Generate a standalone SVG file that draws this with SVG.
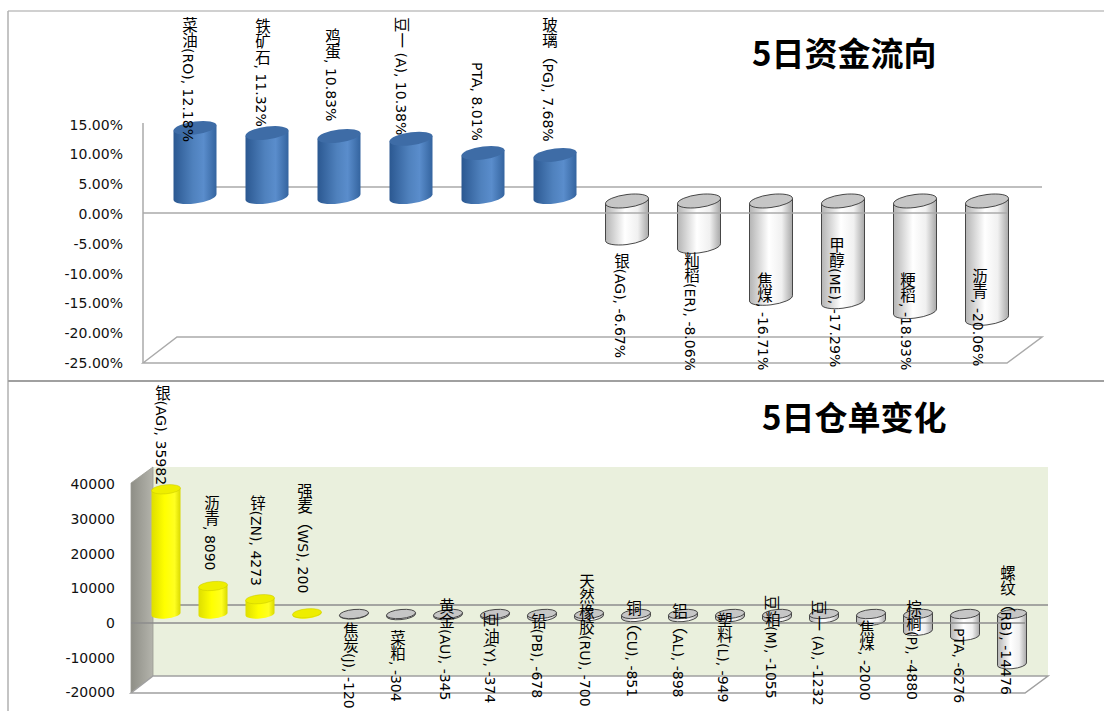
<svg xmlns="http://www.w3.org/2000/svg" width="1104" height="711" viewBox="0 0 1104 711">
<defs>
<linearGradient id="gBlue" x1="0" y1="0" x2="1" y2="0">
<stop offset="0" stop-color="#2b5891"/><stop offset="0.45" stop-color="#4f81bd"/><stop offset="0.7" stop-color="#5a8dcc"/><stop offset="1" stop-color="#34649f"/>
</linearGradient>
<linearGradient id="gSilver" x1="0" y1="0" x2="1" y2="0">
<stop offset="0" stop-color="#b4b4b4"/><stop offset="0.45" stop-color="#ffffff"/><stop offset="0.75" stop-color="#f0f0f0"/><stop offset="1" stop-color="#a8a8a8"/>
</linearGradient>
<linearGradient id="gYellow" x1="0" y1="0" x2="1" y2="0">
<stop offset="0" stop-color="#dede00"/><stop offset="0.45" stop-color="#ffff00"/><stop offset="0.8" stop-color="#ffff20"/><stop offset="1" stop-color="#d8d800"/>
</linearGradient>
<linearGradient id="gSide" x1="0" y1="0" x2="1" y2="0">
<stop offset="0" stop-color="#8e8e86"/><stop offset="1" stop-color="#b4b4ac"/>
</linearGradient>
<style>
.ax{font-family:"DejaVu Sans","Liberation Sans",sans-serif;font-size:14px;fill:#111;text-anchor:end}
.lbl{font-family:"DejaVu Sans","Noto Sans CJK SC",sans-serif;font-size:14px;fill:#000;writing-mode:vertical-rl}
.c{font-size:15.5px}
.sw{text-orientation:sideways;font-size:15.5px}
.title{font-family:"Noto Sans CJK SC",sans-serif;font-size:33px;font-weight:bold;fill:#000}
.grid{stroke:#aaaaaa;stroke-width:1.5;fill:none}
.grid2{stroke:#8c8c8c;stroke-width:1.5;fill:none}
.bBody{fill:url(#gBlue)}
.bTop{fill:#3e6ca6}
.sBody{fill:url(#gSilver);stroke:#3a3a3a;stroke-width:0.9}
.sTop{fill:#c6c6c6;stroke:#3a3a3a;stroke-width:0.9}
.yBody{fill:url(#gYellow)}
.yTop{fill:#eeee00;stroke:#c8c800;stroke-width:0.5}
</style>
</defs>
<rect width="1104" height="711" fill="#ffffff"/>
<g id="frame">
<line x1="8" y1="11" x2="1104" y2="11" stroke="#c0c0c0" stroke-width="1.5"/>
<line x1="8" y1="11" x2="8" y2="711" stroke="#b0b0b0" stroke-width="1.5"/>
<line x1="8" y1="381" x2="1104" y2="381" stroke="#a0a0a0" stroke-width="2"/>
</g>

<!-- TOP CHART -->
<g id="top-chart">
<g id="top-axes">
<polygon class="grid" points="143,363 177,337 1042,337 1007,363" fill="#ffffff"/>
<line class="grid" x1="143" y1="123" x2="143" y2="363"/>
<line class="grid" x1="177" y1="187" x2="1042" y2="187"/>
</g>
<g id="top-bars">
<g id="tb1" transform="translate(195 0) skewY(-7) translate(-195 0)"><path class="bBody" d="M173.5,127.9 L173.5,197 A21.5,6.5 0 0 0 216.5,197 L216.5,127.9 Z"/><ellipse class="bTop" cx="195" cy="127.9" rx="21.5" ry="6.5"/></g>
<g id="tb2" transform="translate(267 0) skewY(-7) translate(-267 0)"><path class="bBody" d="M245.5,133.1 L245.5,197 A21.5,6.5 0 0 0 288.5,197 L288.5,133.1 Z"/><ellipse class="bTop" cx="267" cy="133.1" rx="21.5" ry="6.5"/></g>
<g id="tb3" transform="translate(339 0) skewY(-7) translate(-339 0)"><path class="bBody" d="M317.5,136 L317.5,197 A21.5,6.5 0 0 0 360.5,197 L360.5,136 Z"/><ellipse class="bTop" cx="339" cy="136" rx="21.5" ry="6.5"/></g>
<g id="tb4" transform="translate(411 0) skewY(-7) translate(-411 0)"><path class="bBody" d="M389.5,138.7 L389.5,197 A21.5,6.5 0 0 0 432.5,197 L432.5,138.7 Z"/><ellipse class="bTop" cx="411" cy="138.7" rx="21.5" ry="6.5"/></g>
<g id="tb5" transform="translate(483 0) skewY(-7) translate(-483 0)"><path class="bBody" d="M461.5,152.9 L461.5,197 A21.5,6.5 0 0 0 504.5,197 L504.5,152.9 Z"/><ellipse class="bTop" cx="483" cy="152.9" rx="21.5" ry="6.5"/></g>
<g id="tb6" transform="translate(555 0) skewY(-7) translate(-555 0)"><path class="bBody" d="M533.5,154.9 L533.5,197 A21.5,6.5 0 0 0 576.5,197 L576.5,154.9 Z"/><ellipse class="bTop" cx="555" cy="154.9" rx="21.5" ry="6.5"/></g>
<g id="tb7" transform="translate(627 0) skewY(-7) translate(-627 0)"><path class="sBody" d="M605.5,201 L605.5,238 A21.5,6.5 0 0 0 648.5,238 L648.5,201 Z"/><ellipse class="sTop" cx="627" cy="201" rx="21.5" ry="6.5"/></g>
<g id="tb8" transform="translate(699 0) skewY(-7) translate(-699 0)"><path class="sBody" d="M677.5,201 L677.5,246.4 A21.5,6.5 0 0 0 720.5,246.4 L720.5,201 Z"/><ellipse class="sTop" cx="699" cy="201" rx="21.5" ry="6.5"/></g>
<g id="tb9" transform="translate(771 0) skewY(-7) translate(-771 0)"><path class="sBody" d="M749.5,201 L749.5,298.3 A21.5,6.5 0 0 0 792.5,298.3 L792.5,201 Z"/><ellipse class="sTop" cx="771" cy="201" rx="21.5" ry="6.5"/></g>
<g id="tb10" transform="translate(843 0) skewY(-7) translate(-843 0)"><path class="sBody" d="M821.5,201 L821.5,301.7 A21.5,6.5 0 0 0 864.5,301.7 L864.5,201 Z"/><ellipse class="sTop" cx="843" cy="201" rx="21.5" ry="6.5"/></g>
<g id="tb11" transform="translate(915 0) skewY(-7) translate(-915 0)"><path class="sBody" d="M893.5,201 L893.5,311.6 A21.5,6.5 0 0 0 936.5,311.6 L936.5,201 Z"/><ellipse class="sTop" cx="915" cy="201" rx="21.5" ry="6.5"/></g>
<g id="tb12" transform="translate(987 0) skewY(-7) translate(-987 0)"><path class="sBody" d="M965.5,201 L965.5,318.4 A21.5,6.5 0 0 0 1008.5,318.4 L1008.5,201 Z"/><ellipse class="sTop" cx="987" cy="201" rx="21.5" ry="6.5"/></g>
</g>
<line class="grid" x1="143" y1="213" x2="1007" y2="213"/>
<g id="top-labels">
<text class="lbl" x="188" y="17"><tspan class="c">菜油</tspan>(RO), 12.18%</text>
<text class="lbl" x="261" y="18"><tspan class="c">铁矿石</tspan>, 11.32%</text>
<text class="lbl" x="331" y="28"><tspan class="c">鸡蛋</tspan>, 10.83%</text>
<text class="lbl" x="401" y="17"><tspan class="sw">豆一</tspan> (A), 10.38%</text>
<text class="lbl" x="477" y="62">PTA, 8.01%</text>
<text class="lbl" x="548" y="17"><tspan class="c">玻璃（</tspan>PG), 7.68%</text>
<text class="lbl" x="620" y="253"><tspan class="c">银</tspan>(AG), -6.67%</text>
<text class="lbl" x="690" y="252"><tspan class="c">籼稻</tspan>(ER), -8.06%</text>
<text class="lbl" x="763" y="272"><tspan class="c">焦煤</tspan>, -16.71%</text>
<text class="lbl" x="835" y="237"><tspan class="c">甲醇</tspan>(ME), -17.29%</text>
<text class="lbl" x="906" y="272"><tspan class="c">粳稻</tspan>, -18.93%</text>
<text class="lbl" x="978" y="268"><tspan class="c">沥青</tspan>, -20.06%</text>
</g>
<g id="top-yaxis">
<text class="ax" x="123" y="129.6">15.00%</text>
<text class="ax" x="123" y="159.4">10.00%</text>
<text class="ax" x="123" y="189.2">5.00%</text>
<text class="ax" x="123" y="219">0.00%</text>
<text class="ax" x="123" y="248.8">-5.00%</text>
<text class="ax" x="123" y="278.6">-10.00%</text>
<text class="ax" x="123" y="308.4">-15.00%</text>
<text class="ax" x="123" y="338.2">-20.00%</text>
<text class="ax" x="123" y="368">-25.00%</text>
</g>
<text id="top-title" class="title" x="752" y="66">5日资金流向</text>
</g>

<!-- BOTTOM CHART -->
<g id="bottom-chart">
<g id="bottom-walls">
<rect x="153" y="467" width="895" height="209" fill="#eaf0dd"/>
<polygon points="131,483 153,467 153,676 131,693" fill="url(#gSide)" stroke="#9a9a92" stroke-width="0.8"/>
<polygon points="131,693 153,676 1048,676 1025,693" fill="#ffffff" stroke="#a0a0a0" stroke-width="1.5"/>
<line class="grid2" x1="153" y1="605" x2="1048" y2="605"/>
</g>
<g id="bottom-bars">
<g id="bb1" transform="translate(166 0) skewY(-5) translate(-166 0)"><path class="yBody" d="M151.5,489.3 L151.5,614 A14.5,4.5 0 0 0 180.5,614 L180.5,489.3 Z"/><ellipse class="yTop" cx="166" cy="489.3" rx="14.5" ry="4.5"/></g>
<g id="bb2" transform="translate(213 0) skewY(-5) translate(-213 0)"><path class="yBody" d="M198.5,586 L198.5,614 A14.5,4.5 0 0 0 227.5,614 L227.5,586 Z"/><ellipse class="yTop" cx="213" cy="586" rx="14.5" ry="4.5"/></g>
<g id="bb3" transform="translate(260 0) skewY(-5) translate(-260 0)"><path class="yBody" d="M245.5,599.2 L245.5,614 A14.5,4.5 0 0 0 274.5,614 L274.5,599.2 Z"/><ellipse class="yTop" cx="260" cy="599.2" rx="14.5" ry="4.5"/></g>
<g id="bb4" transform="translate(307 0) skewY(-5) translate(-307 0)"><path class="yBody" d="M292.5,613.3 L292.5,614 A14.5,4.5 0 0 0 321.5,614 L321.5,613.3 Z"/><ellipse class="yTop" cx="307" cy="613.3" rx="14.5" ry="4.5"/></g>
<g id="bb5" transform="translate(354 0) skewY(-5) translate(-354 0)"><path class="sBody" d="M339.5,614 L339.5,614.4 A14.5,4.5 0 0 0 368.5,614.4 L368.5,614 Z"/><ellipse class="sTop" cx="354" cy="614" rx="14.5" ry="4.5"/></g>
<g id="bb6" transform="translate(401 0) skewY(-5) translate(-401 0)"><path class="sBody" d="M386.5,614 L386.5,615.1 A14.5,4.5 0 0 0 415.5,615.1 L415.5,614 Z"/><ellipse class="sTop" cx="401" cy="614" rx="14.5" ry="4.5"/></g>
<g id="bb7" transform="translate(448 0) skewY(-5) translate(-448 0)"><path class="sBody" d="M433.5,614 L433.5,615.2 A14.5,4.5 0 0 0 462.5,615.2 L462.5,614 Z"/><ellipse class="sTop" cx="448" cy="614" rx="14.5" ry="4.5"/></g>
<g id="bb8" transform="translate(495 0) skewY(-5) translate(-495 0)"><path class="sBody" d="M480.5,614 L480.5,615.3 A14.5,4.5 0 0 0 509.5,615.3 L509.5,614 Z"/><ellipse class="sTop" cx="495" cy="614" rx="14.5" ry="4.5"/></g>
<g id="bb9" transform="translate(542 0) skewY(-5) translate(-542 0)"><path class="sBody" d="M527.5,614 L527.5,616.4 A14.5,4.5 0 0 0 556.5,616.4 L556.5,614 Z"/><ellipse class="sTop" cx="542" cy="614" rx="14.5" ry="4.5"/></g>
<g id="bb10" transform="translate(589 0) skewY(-5) translate(-589 0)"><path class="sBody" d="M574.5,614 L574.5,616.4 A14.5,4.5 0 0 0 603.5,616.4 L603.5,614 Z"/><ellipse class="sTop" cx="589" cy="614" rx="14.5" ry="4.5"/></g>
<g id="bb11" transform="translate(636 0) skewY(-5) translate(-636 0)"><path class="sBody" d="M621.5,614 L621.5,617 A14.5,4.5 0 0 0 650.5,617 L650.5,614 Z"/><ellipse class="sTop" cx="636" cy="614" rx="14.5" ry="4.5"/></g>
<g id="bb12" transform="translate(683 0) skewY(-5) translate(-683 0)"><path class="sBody" d="M668.5,614 L668.5,617.1 A14.5,4.5 0 0 0 697.5,617.1 L697.5,614 Z"/><ellipse class="sTop" cx="683" cy="614" rx="14.5" ry="4.5"/></g>
<g id="bb13" transform="translate(730 0) skewY(-5) translate(-730 0)"><path class="sBody" d="M715.5,614 L715.5,617.3 A14.5,4.5 0 0 0 744.5,617.3 L744.5,614 Z"/><ellipse class="sTop" cx="730" cy="614" rx="14.5" ry="4.5"/></g>
<g id="bb14" transform="translate(777 0) skewY(-5) translate(-777 0)"><path class="sBody" d="M762.5,614 L762.5,617.7 A14.5,4.5 0 0 0 791.5,617.7 L791.5,614 Z"/><ellipse class="sTop" cx="777" cy="614" rx="14.5" ry="4.5"/></g>
<g id="bb15" transform="translate(824 0) skewY(-5) translate(-824 0)"><path class="sBody" d="M809.5,614 L809.5,618.3 A14.5,4.5 0 0 0 838.5,618.3 L838.5,614 Z"/><ellipse class="sTop" cx="824" cy="614" rx="14.5" ry="4.5"/></g>
<g id="bb16" transform="translate(871 0) skewY(-5) translate(-871 0)"><path class="sBody" d="M856.5,614 L856.5,620.9 A14.5,4.5 0 0 0 885.5,620.9 L885.5,614 Z"/><ellipse class="sTop" cx="871" cy="614" rx="14.5" ry="4.5"/></g>
<g id="bb17" transform="translate(918 0) skewY(-5) translate(-918 0)"><path class="sBody" d="M903.5,614 L903.5,630.9 A14.5,4.5 0 0 0 932.5,630.9 L932.5,614 Z"/><ellipse class="sTop" cx="918" cy="614" rx="14.5" ry="4.5"/></g>
<g id="bb18" transform="translate(965 0) skewY(-5) translate(-965 0)"><path class="sBody" d="M950.5,614 L950.5,635.8 A14.5,4.5 0 0 0 979.5,635.8 L979.5,614 Z"/><ellipse class="sTop" cx="965" cy="614" rx="14.5" ry="4.5"/></g>
<g id="bb19" transform="translate(1012 0) skewY(-5) translate(-1012 0)"><path class="sBody" d="M997.5,614 L997.5,664.2 A14.5,4.5 0 0 0 1026.5,664.2 L1026.5,614 Z"/><ellipse class="sTop" cx="1012" cy="614" rx="14.5" ry="4.5"/></g>
</g>
<line class="grid2" x1="131" y1="623" x2="1025" y2="623"/>
<g id="bottom-labels">
<text class="lbl" x="161" y="385"><tspan class="c">银</tspan>(AG), 35982</text>
<text class="lbl" x="210" y="495"><tspan class="c">沥青</tspan>, 8090</text>
<text class="lbl" x="256" y="495"><tspan class="c">锌</tspan>(ZN), 4273</text>
<text class="lbl" x="303" y="483"><tspan class="c">强麦（</tspan>WS), 200</text>
<text class="lbl" x="349" y="622"><tspan class="c">焦炭</tspan>(J), -120</text>
<text class="lbl" x="396" y="630"><tspan class="c">菜粕</tspan>, -304</text>
<text class="lbl" x="445" y="598"><tspan class="c">黄金</tspan>(AU), -345</text>
<text class="lbl" x="490" y="612"><tspan class="sw">豆</tspan><tspan class="c">油</tspan>(Y), -374</text>
<text class="lbl" x="537" y="613"><tspan class="c">铅</tspan>(PB), -678</text>
<text class="lbl" x="585" y="573"><tspan class="c">天然橡胶</tspan>(RU), -700</text>
<text class="lbl" x="632" y="600"><tspan class="c">铜（</tspan>CU), -851</text>
<text class="lbl" x="678" y="603"><tspan class="c">铝（</tspan>AL), -898</text>
<text class="lbl" x="723" y="612"><tspan class="c">塑料</tspan>(L), -949</text>
<text class="lbl" x="771" y="595"><tspan class="sw">豆</tspan><tspan class="c">粕</tspan>(M), -1055</text>
<text class="lbl" x="818" y="600"><tspan class="sw">豆一</tspan> (A), -1232</text>
<text class="lbl" x="865" y="620"><tspan class="c">焦煤</tspan>, -2000</text>
<text class="lbl" x="912" y="600"><tspan class="c">棕榈</tspan>(P), -4880</text>
<text class="lbl" x="959" y="628">PTA, -6276</text>
<text class="lbl" x="1006" y="565"><tspan class="c">螺纹（</tspan>RB), -14476</text>
</g>
<g id="bottom-yaxis">
<text class="ax" x="115" y="489.3">40000</text>
<text class="ax" x="115" y="524">30000</text>
<text class="ax" x="115" y="558.7">20000</text>
<text class="ax" x="115" y="593.3">10000</text>
<text class="ax" x="115" y="628">0</text>
<text class="ax" x="115" y="662.7">-10000</text>
<text class="ax" x="115" y="697.3">-20000</text>
</g>
<text id="bottom-title" class="title" x="762" y="430">5日仓单变化</text>
</g>
</svg>
